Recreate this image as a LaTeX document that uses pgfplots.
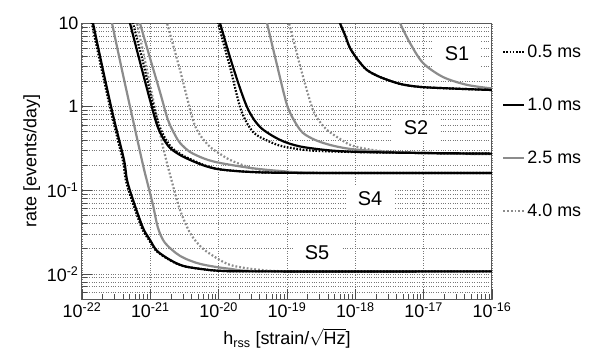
\documentclass[border=0pt]{standalone}
\usepackage{fontspec}
\setmainfont{Liberation Sans}
\usepackage{pgfplots}
\pgfplotsset{compat=1.18}

\definecolor{cgray}{RGB}{140,140,140}
\definecolor{ggrid}{RGB}{120,120,120}
\newcommand{\fs}{\fontsize{18}{21}\selectfont}

\pgfplotsset{
  d05/.style={black, line width=2.2bp, dash pattern=on 1.6bp off 1.6bp},
  d10/.style={black, line width=2.2bp},
  d25/.style={cgray, line width=2.2bp},
  d40/.style={cgray, line width=2.2bp, dash pattern=on 1.8bp off 2bp},
}

\begin{document}
\begin{tikzpicture}
\begin{axis}[
    name=ax,
    scale only axis,
    width=410bp, height=276bp,
    xmode=log, ymode=log,
    xmin=1e-22, xmax=1e-16,
    ymin=0.005, ymax=10,
    xtick={1e-22,1e-21,1e-20,1e-19,1e-18,1e-17,1e-16},
    xticklabels={10\textsuperscript{-22},10\textsuperscript{-21},10\textsuperscript{-20},10\textsuperscript{-19},10\textsuperscript{-18},10\textsuperscript{-17},10\textsuperscript{-16}},
    minor xtick={2e-22,3e-22,4e-22,5e-22,6e-22,7e-22,8e-22,9e-22,
                 2e-21,3e-21,4e-21,5e-21,6e-21,7e-21,8e-21,9e-21,
                 2e-20,3e-20,4e-20,5e-20,6e-20,7e-20,8e-20,9e-20,
                 2e-19,3e-19,4e-19,5e-19,6e-19,7e-19,8e-19,9e-19,
                 2e-18,3e-18,4e-18,5e-18,6e-18,7e-18,8e-18,9e-18,
                 2e-17,3e-17,4e-17,5e-17,6e-17,7e-17,8e-17,9e-17},
    ytick={0.01,0.1,1,10},
    yticklabels={10\textsuperscript{-2},10\textsuperscript{-1},1,10},
    minor ytick={0.006,0.007,0.008,0.009,
                 0.02,0.03,0.04,0.05,0.06,0.07,0.08,0.09,
                 0.2,0.3,0.4,0.5,0.6,0.7,0.8,0.9,
                 2,3,4,5,6,7,8,9},
    xmajorgrids, ymajorgrids, yminorgrids,
    major grid style={ggrid, dotted, line width=0.6bp},
    minor grid style={ggrid, dotted, line width=0.6bp},
    tick pos=left, tick align=inside,
    major tick length=10bp, minor tick length=5bp,
    tick style={black!70, line width=0.6bp},
    axis line style={black!65, line width=1bp},
    tick label style={font=\fs},
    label style={font=\fs},
    xlabel={h\textsubscript{rss} [strain/$\sqrt{\mbox{Hz}}$]},
    xlabel style={yshift=-4bp},
    ylabel={rate [events/day]},
    legend style={at={(1,1)}, anchor=north west, xshift=10bp, yshift=-20bp,
                  draw=none, fill=none, row sep=35bp, font=\fs,
                  inner sep=0pt, nodes={inner sep=2bp}},
    legend cell align=left,
    legend image code/.code={\draw[#1] (0bp,0bp) -- (21bp,0bp);},
]
\addlegendimage{d05}\addlegendentry{0.5 ms}
\addlegendimage{d10}\addlegendentry{1.0 ms}
\addlegendimage{d25}\addlegendentry{2.5 ms}
\addlegendimage{d40}\addlegendentry{4.0 ms}

% ---- S5 ----
\addplot[d25, smooth, forget plot] coordinates {
 (2.569e-22,13.2) (2.748e-22,10) (3.849e-22,2.74) (5.577e-22,0.693) (7.81e-22,0.201)
 (9.24e-22,0.1158) (1.094e-21,0.0668) (1.295e-21,0.03547) (1.639e-21,0.02348)
 (2.718e-21,0.01641) (5.33e-21,0.01317) (1.466e-20,0.01148) (5.64e-20,0.0107) (1e-16,0.0107)};
\addplot[d40, smooth, forget plot] coordinates {
 (5.965e-22,13.2) (6.38e-22,10) (9.24e-22,2.39) (1.252e-21,0.732) (1.532e-21,0.330)
 (2.075e-21,0.1257) (2.718e-21,0.0582) (3.807e-21,0.0309) (5.33e-21,0.02161)
 (7.47e-21,0.01734) (1.466e-20,0.01281) (4.03e-20,0.01116) (1.549e-19,0.0107) (1e-16,0.0107)};
\addplot[d10, smooth, forget plot] coordinates {
 (1.354e-22,13.2) (1.449e-22,10) (2.029e-22,2.74) (2.842e-22,0.795) (4.118e-22,0.2305)
 (4.556e-22,0.1329) (5.577e-22,0.0766) (7.81e-22,0.03547) (9.89e-22,0.0255)
 (1.252e-21,0.01884) (1.940e-21,0.0147) (3.006e-21,0.01246) (5.33e-21,0.01148)
 (1.046e-20,0.01086) (4.03e-20,0.0107) (1e-16,0.0107)};
\addplot[d05, smooth, forget plot] coordinates {
 (1.30e-22,13.2) (1.39e-22,10) (1.95e-22,2.74) (2.73e-22,0.795) (3.95e-22,0.2305)
 (4.37e-22,0.1329) (5.35e-22,0.0766) (7.5e-22,0.03547) (9.55e-22,0.0255)
 (1.22e-21,0.01884) (1.90e-21,0.0147) (2.95e-21,0.01246) (5.3e-21,0.01148)
 (1.046e-20,0.01086) (4.03e-20,0.0107) (1e-16,0.0107)};

% ---- S4 ----
\addplot[d25, smooth, forget plot] coordinates {
 (6.60e-22,13.2) (7.06e-22,10) (9.89e-22,3.82) (1.385e-21,1.497) (1.813e-21,0.693)
 (2.296e-21,0.459) (2.718e-21,0.368) (3.807e-21,0.287) (6.31e-21,0.237)
 (1.046e-20,0.212) (2.876e-20,0.185) (7.90e-20,0.170) (3.04e-19,0.1611) (1e-16,0.1611)};
\addplot[d40, smooth, forget plot] coordinates {
 (1.585e-21,13.2) (1.754e-21,10) (2.718e-21,2.74) (4.21e-21,0.693) (5.33e-21,0.459)
 (7.47e-21,0.330) (1.046e-20,0.272) (1.466e-20,0.2305) (2.43e-20,0.1954)
 (4.03e-20,0.175) (1.107e-19,0.1633) (5.965e-19,0.1611) (1e-16,0.1611)};
\addplot[d10, smooth, forget plot] coordinates {
 (4.712e-22,13.2) (5.04e-22,10) (7.06e-22,3.42) (9.89e-22,1.20) (1.252e-21,0.604)
 (1.532e-21,0.422) (1.940e-21,0.3206) (2.718e-21,0.264) (3.807e-21,0.2305)
 (6.31e-21,0.1954) (1.046e-20,0.1774) (2.876e-20,0.1656) (1.549e-19,0.1611) (1e-16,0.1611)};
\addplot[d05, smooth, forget plot] coordinates {
 (5.21e-22,13.2) (5.577e-22,10) (7.81e-22,3.42) (1.058e-21,1.20) (1.339e-21,0.604)
 (1.639e-21,0.422) (2.075e-21,0.3206) (2.907e-21,0.264) (4.07e-21,0.2305)
 (6.31e-21,0.198) (1.046e-20,0.1774) (2.876e-20,0.1656) (1.549e-19,0.1611) (1e-16,0.1611)};

% ---- S2 ----
\addplot[d25, smooth, forget plot] coordinates {
 (4.764e-20,13.2) (5.10e-20,10) (7.14e-20,3.15) (1e-19,1.047) (1.309e-19,0.656)
 (1.714e-19,0.484) (2.57e-19,0.400) (4.26e-19,0.348) (8.35e-19,0.312)
 (2.296e-18,0.291) (8.84e-18,0.279) (4.76e-17,0.272) (1e-16,0.272)};
\addplot[d40, smooth, forget plot] coordinates {
 (9.67e-20,13.2) (1.070e-19,10) (1.353e-19,4.76) (1.773e-19,2.08) (2.40e-19,0.912)
 (3.04e-19,0.656) (3.85e-19,0.526) (5.965e-19,0.411) (9.24e-19,0.339)
 (2.296e-18,0.295) (8.84e-18,0.279) (3.40e-17,0.272) (1e-16,0.272)};
\addplot[d10, smooth, forget plot] coordinates {
 (9.45e-21,13.2) (1.046e-20,10) (1.622e-20,2.98) (2.60e-20,0.991) (4.03e-20,0.571)
 (7.90e-20,0.400) (1.549e-19,0.334) (4.26e-19,0.2993) (1.171e-18,0.287)
 (8.84e-18,0.279) (1e-16,0.274)};
\addplot[d05, smooth, forget plot] coordinates {
 (8.84e-21,13.2) (9.78e-21,10) (1.466e-20,2.98) (2.123e-20,0.912) (3.18e-20,0.498)
 (5.27e-20,0.389) (8.74e-20,0.334) (2.171e-19,0.2993) (8.35e-19,0.287)
 (8.84e-18,0.279) (1e-16,0.274)};

% ---- S1 ----
\addplot[d25, smooth, forget plot] coordinates {
 (4.07e-18,13.2) (4.51e-18,10) (6.31e-18,5.77) (9.78e-18,3.33) (1.918e-17,2.26)
 (4.31e-17,1.82) (1e-16,1.65)};
\addplot[d10, smooth, forget plot] coordinates {
 (5.58e-19,13.2) (5.965e-19,10) (7.06e-19,7.19) (8.35e-19,5.03) (1.094e-18,3.61)
 (1.481e-18,2.74) (2.296e-18,2.26) (4.51e-18,1.87) (8.84e-18,1.72) (2.43e-17,1.65)
 (1e-16,1.58)};
\addplot[d05, smooth, forget plot] coordinates {
 (5.58e-19,13.2) (5.965e-19,10) (7.06e-19,7.19) (8.35e-19,5.03) (1.094e-18,3.61)
 (1.481e-18,2.74) (2.296e-18,2.26) (4.51e-18,1.87) (8.84e-18,1.72) (2.43e-17,1.65)
 (1e-16,1.58)};

% ---- station labels ----
\node[fill=white, inner xsep=12bp, inner ysep=6bp, font=\fontsize{20}{22}\selectfont] at (axis cs:3.07e-17,4.26) {S1};
\node[fill=white, inner xsep=12bp, inner ysep=6bp, font=\fontsize{20}{22}\selectfont] at (axis cs:7.72e-18,0.556) {S2};
\node[fill=white, inner xsep=12bp, inner ysep=6bp, font=\fontsize{20}{22}\selectfont] at (axis cs:1.639e-18,0.0787) {S4};
\node[fill=white, inner xsep=12bp, inner ysep=6bp, font=\fontsize{20}{22}\selectfont] at (axis cs:2.75e-19,0.0178) {S5};
\end{axis}
\pgfresetboundingbox
\path ([xshift=-82bp,yshift=-65bp]ax.south west) rectangle ([xshift=106bp,yshift=23bp]ax.north east);
\end{tikzpicture}
\end{document}
